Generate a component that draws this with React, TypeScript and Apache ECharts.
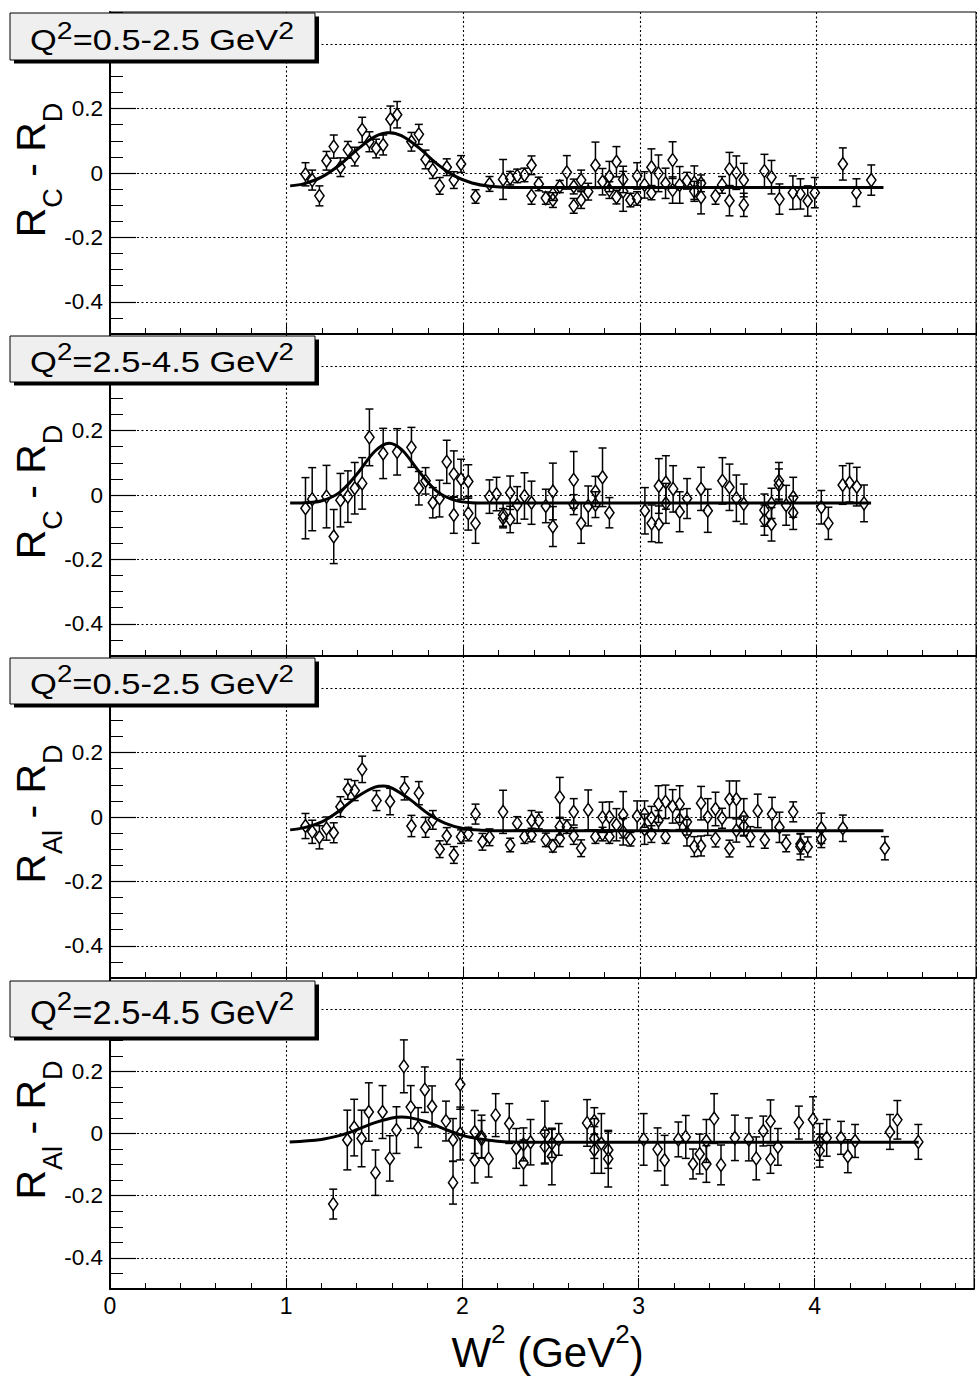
import React, { useEffect, useRef } from "react";
import * as echarts from "echarts";

const FONT = "Liberation Sans, Arial, Helvetica, sans-serif";
const X_MAX = 4.904;
const Y_TICKS_MAJOR = [-0.4, -0.2, 0, 0.2, 0.4];
const Y_LABELS = [-0.4, -0.2, 0, 0.2];

// [W^2, value, error]
const P1: number[][] = [
  [1.107, -0.004, 0.036], [1.145, -0.022, 0.031], [1.186, -0.071, 0.031], [1.226, 0.038, 0.029],
  [1.267, 0.082, 0.036], [1.305, 0.018, 0.029], [1.347, 0.072, 0.026], [1.386, 0.051, 0.029],
  [1.428, 0.134, 0.039], [1.469, 0.097, 0.031], [1.507, 0.076, 0.029], [1.547, 0.087, 0.031],
  [1.588, 0.167, 0.041], [1.626, 0.181, 0.041], [1.707, 0.097, 0.029], [1.749, 0.12, 0.031],
  [1.787, 0.042, 0.029], [1.828, 0.009, 0.026], [1.867, -0.04, 0.026], [1.907, 0.018, 0.026],
  [1.947, -0.022, 0.026], [1.988, 0.028, 0.026], [2.07, -0.073, 0.021], [2.149, -0.034, 0.023],
  [2.226, -0.02, 0.062], [2.266, -0.016, 0.021], [2.306, -0.009, 0.021], [2.347, -0.006, 0.021],
  [2.387, 0.024, 0.029], [2.387, -0.071, 0.026], [2.428, -0.034, 0.021], [2.468, -0.078, 0.019],
  [2.508, -0.084, 0.023], [2.508, -0.065, 0.02], [2.547, -0.042, 0.019], [2.587, 0.002, 0.052],
  [2.626, -0.042, 0.023], [2.626, -0.102, 0.023], [2.668, -0.022, 0.031], [2.668, -0.084, 0.026],
  [2.708, -0.058, 0.026], [2.749, 0.024, 0.072], [2.789, -0.027, 0.041], [2.828, -0.011, 0.047],
  [2.828, -0.053, 0.026], [2.868, 0.035, 0.047], [2.868, -0.075, 0.021], [2.906, -0.02, 0.041],
  [2.906, -0.057, 0.062], [2.947, -0.084, 0.021], [2.985, -0.009, 0.041], [2.985, -0.079, 0.021],
  [3.027, -0.037, 0.041], [3.066, 0.018, 0.057], [3.066, -0.062, 0.021], [3.106, -0.001, 0.057],
  [3.146, -0.032, 0.047], [3.186, 0.04, 0.057], [3.186, -0.053, 0.041], [3.226, -0.037, 0.057],
  [3.267, -0.024, 0.026], [3.309, -0.03, 0.052], [3.309, -0.057, 0.031], [3.347, -0.032, 0.026],
  [3.347, -0.075, 0.052], [3.429, -0.071, 0.026], [3.466, -0.037, 0.026], [3.508, 0.012, 0.052],
  [3.508, -0.086, 0.047], [3.547, 0.001, 0.052], [3.589, -0.022, 0.052], [3.589, -0.099, 0.036],
  [3.706, 0.006, 0.052], [3.746, -0.013, 0.052], [3.791, -0.081, 0.047], [3.867, -0.061, 0.052],
  [3.91, -0.065, 0.047], [3.951, -0.087, 0.047], [3.991, -0.061, 0.047], [4.15, 0.028, 0.05],
  [4.227, -0.061, 0.043], [4.311, -0.022, 0.047],
];

const P2: number[][] = [
  [1.107, -0.041, 0.095], [1.145, -0.013, 0.098], [1.226, -0.005, 0.097], [1.267, -0.129, 0.084],
  [1.305, -0.016, 0.083], [1.347, -0.005, 0.08], [1.386, 0.021, 0.08], [1.428, 0.036, 0.08],
  [1.469, 0.179, 0.088], [1.547, 0.129, 0.078], [1.626, 0.134, 0.072], [1.707, 0.148, 0.062],
  [1.749, 0.021, 0.052], [1.787, 0.044, 0.041], [1.828, -0.024, 0.047], [1.866, -0.011, 0.057],
  [1.907, 0.103, 0.067], [1.947, 0.065, 0.072], [1.947, -0.062, 0.057], [1.988, 0.049, 0.062],
  [2.029, 0.042, 0.052], [2.029, -0.057, 0.052], [2.07, -0.088, 0.062], [2.149, -0.005, 0.052],
  [2.189, 0.003, 0.052], [2.226, -0.061, 0.036], [2.226, -0.072, 0.03], [2.266, 0.007, 0.052],
  [2.266, -0.076, 0.041], [2.306, -0.031, 0.057], [2.347, -0.003, 0.072], [2.387, -0.024, 0.067],
  [2.468, -0.034, 0.052], [2.508, 0.011, 0.088], [2.508, -0.098, 0.062], [2.626, 0.047, 0.088],
  [2.626, -0.03, 0.031], [2.668, -0.088, 0.062], [2.708, -0.034, 0.062], [2.749, 0.011, 0.047],
  [2.749, -0.03, 0.04], [2.789, 0.055, 0.091], [2.828, -0.055, 0.047], [3.029, -0.049, 0.072],
  [3.067, -0.088, 0.057], [3.108, 0.028, 0.085], [3.108, -0.091, 0.057], [3.148, 0.039, 0.083],
  [3.148, -0.026, 0.062], [3.189, 0.019, 0.072], [3.226, -0.052, 0.062], [3.268, -0.011, 0.062],
  [3.347, 0.019, 0.067], [3.385, -0.049, 0.067], [3.468, 0.044, 0.072], [3.508, 0.024, 0.072],
  [3.547, -0.01, 0.072], [3.589, -0.028, 0.062], [3.706, -0.047, 0.05], [3.706, -0.078, 0.047],
  [3.746, -0.026, 0.047], [3.746, -0.091, 0.052], [3.788, 0.044, 0.057], [3.788, 0.031, 0.05],
  [3.829, -0.032, 0.062], [3.869, -0.007, 0.062], [3.869, -0.055, 0.052], [4.028, -0.038, 0.052],
  [4.068, -0.088, 0.05], [4.149, 0.031, 0.06], [4.188, 0.038, 0.06], [4.229, 0.026, 0.06],
  [4.27, -0.026, 0.057],
];

const P3: number[][] = [
  [1.107, -0.028, 0.039], [1.145, -0.046, 0.036], [1.186, -0.063, 0.036], [1.226, -0.036, 0.036],
  [1.267, -0.049, 0.031], [1.305, 0.032, 0.031], [1.347, 0.086, 0.031], [1.386, 0.082, 0.031],
  [1.428, 0.148, 0.041], [1.509, 0.051, 0.031], [1.586, 0.048, 0.041], [1.668, 0.089, 0.036],
  [1.707, -0.028, 0.033], [1.749, 0.074, 0.036], [1.787, -0.032, 0.031], [1.828, -0.009, 0.029],
  [1.867, -0.1, 0.026], [1.907, -0.059, 0.026], [1.947, -0.118, 0.026], [1.988, -0.061, 0.021],
  [2.029, -0.053, 0.021], [2.07, 0.009, 0.031], [2.109, -0.077, 0.026], [2.149, -0.063, 0.026],
  [2.226, 0.016, 0.067], [2.266, -0.087, 0.021], [2.306, -0.02, 0.021], [2.347, -0.061, 0.021],
  [2.387, -0.011, 0.031], [2.387, -0.056, 0.021], [2.428, -0.011, 0.026], [2.468, -0.071, 0.021],
  [2.508, -0.09, 0.019], [2.547, 0.061, 0.062], [2.547, -0.03, 0.026], [2.547, -0.066, 0.026],
  [2.587, -0.03, 0.021], [2.626, 0.016, 0.041], [2.626, -0.059, 0.026], [2.668, -0.097, 0.026],
  [2.708, 0.022, 0.062], [2.749, -0.061, 0.021], [2.789, -0.001, 0.047], [2.789, -0.053, 0.021],
  [2.828, 0.0, 0.047], [2.828, -0.061, 0.021], [2.868, -0.024, 0.05], [2.906, 0.007, 0.072],
  [2.906, -0.046, 0.041], [2.947, -0.069, 0.021], [2.985, 0.003, 0.047], [3.027, 0.009, 0.041],
  [3.027, -0.038, 0.047], [3.066, -0.053, 0.026], [3.066, -0.003, 0.036], [3.106, 0.04, 0.057],
  [3.106, -0.011, 0.031], [3.146, 0.047, 0.052], [3.146, -0.061, 0.021], [3.186, 0.033, 0.052],
  [3.226, 0.04, 0.057], [3.226, -0.008, 0.031], [3.267, -0.015, 0.041], [3.267, -0.049, 0.041],
  [3.309, -0.092, 0.031], [3.347, 0.043, 0.052], [3.347, -0.09, 0.031], [3.385, 0.0, 0.057],
  [3.429, 0.025, 0.052], [3.429, -0.067, 0.026], [3.466, -0.004, 0.031], [3.508, 0.055, 0.057],
  [3.508, -0.098, 0.026], [3.547, 0.055, 0.057], [3.547, -0.042, 0.036], [3.589, 0.0, 0.057],
  [3.589, -0.028, 0.031], [3.626, -0.061, 0.031], [3.668, 0.019, 0.052], [3.708, -0.071, 0.026],
  [3.749, 0.009, 0.052], [3.791, -0.032, 0.047], [3.829, -0.082, 0.026], [3.869, 0.016, 0.031],
  [3.91, -0.084, 0.031], [3.91, -0.092, 0.041], [3.951, -0.093, 0.031], [4.028, -0.035, 0.047],
  [4.028, -0.069, 0.026], [4.15, -0.035, 0.041], [4.388, -0.097, 0.036],
];

const P4: number[][] = [
  [1.267, -0.227, 0.048], [1.347, -0.021, 0.096], [1.386, 0.019, 0.091], [1.428, -0.016, 0.091],
  [1.469, 0.069, 0.094], [1.507, -0.126, 0.073], [1.547, 0.069, 0.085], [1.588, -0.08, 0.073],
  [1.626, 0.011, 0.075], [1.668, 0.216, 0.085], [1.707, 0.085, 0.069], [1.749, 0.019, 0.064],
  [1.787, 0.141, 0.073], [1.828, 0.087, 0.066], [1.907, 0.04, 0.064], [1.947, -0.021, 0.069],
  [1.947, -0.158, 0.069], [1.988, 0.158, 0.08], [1.988, 0.0, 0.085], [2.07, 0.005, 0.069],
  [2.07, -0.086, 0.073], [2.109, -0.01, 0.069], [2.109, -0.018, 0.06], [2.149, -0.081, 0.059],
  [2.189, 0.059, 0.069], [2.266, 0.032, 0.064], [2.306, -0.048, 0.064], [2.347, -0.035, 0.053],
  [2.347, -0.094, 0.073], [2.387, -0.028, 0.073], [2.468, 0.003, 0.101], [2.468, -0.042, 0.053],
  [2.508, -0.032, 0.045], [2.508, -0.074, 0.091], [2.547, -0.019, 0.051], [2.708, 0.034, 0.075],
  [2.749, 0.04, 0.043], [2.749, -0.016, 0.064], [2.749, -0.053, 0.075], [2.789, -0.032, 0.096],
  [2.828, -0.053, 0.059], [2.828, -0.081, 0.091], [3.029, -0.019, 0.083], [3.108, -0.051, 0.069],
  [3.148, -0.086, 0.08], [3.226, -0.019, 0.056], [3.268, -0.011, 0.069], [3.309, -0.098, 0.048],
  [3.347, -0.066, 0.064], [3.385, -0.024, 0.069], [3.385, -0.098, 0.059], [3.429, 0.048, 0.08],
  [3.468, -0.101, 0.064], [3.547, -0.014, 0.073], [3.626, -0.019, 0.069], [3.668, -0.08, 0.069],
  [3.708, 0.008, 0.048], [3.749, 0.039, 0.069], [3.749, -0.083, 0.045], [3.791, -0.043, 0.059],
  [3.91, 0.035, 0.053], [3.99, 0.045, 0.073], [4.028, -0.027, 0.059], [4.028, -0.055, 0.053],
  [4.068, -0.014, 0.059], [4.149, -0.014, 0.053], [4.188, -0.073, 0.053], [4.229, -0.024, 0.053],
  [4.427, 0.005, 0.056], [4.469, 0.044, 0.062], [4.588, -0.027, 0.056],
];

// fit curves
const C1_X = [1.02, 1.1, 1.2, 1.3, 1.4, 1.5, 1.58, 1.65, 1.75, 1.85, 1.95, 2.05, 2.15, 2.3, 2.45, 4.38];
const C1_Y = [-0.04, -0.033, -0.012, 0.025, 0.073, 0.113, 0.125, 0.116, 0.078, 0.029, -0.009, -0.031, -0.041, -0.045, -0.045, -0.045];
const C2_X = [1.02, 1.1, 1.2, 1.3, 1.4, 1.5, 1.58, 1.65, 1.75, 1.85, 1.95, 2.05, 2.2, 2.35, 4.31];
const C2_Y = [-0.025, -0.024, -0.018, 0.008, 0.066, 0.136, 0.161, 0.142, 0.073, 0.012, -0.016, -0.024, -0.025, -0.025, -0.025];
const C3_X = [1.02, 1.1, 1.2, 1.3, 1.4, 1.5, 1.55, 1.6, 1.7, 1.8, 1.9, 2.0, 2.1, 2.25, 2.4, 4.38];
const C3_Y = [-0.04, -0.033, -0.015, 0.02, 0.063, 0.093, 0.096, 0.089, 0.054, 0.011, -0.02, -0.036, -0.041, -0.043, -0.043, -0.043];
const C4_X = [1.02, 1.2, 1.3, 1.4, 1.5, 1.6, 1.655, 1.7, 1.8, 1.9, 2.0, 2.1, 2.2, 2.35, 2.5, 4.59];
const C4_Y = [-0.027, -0.019, -0.007, 0.012, 0.034, 0.05, 0.053, 0.051, 0.037, 0.014, -0.006, -0.018, -0.025, -0.028, -0.028, -0.028];

const POINTS = [P1, P2, P3, P4];
const CURVES_X = [C1_X, C2_X, C3_X, C4_X];
const CURVES_Y = [C1_Y, C2_Y, C3_Y, C4_Y];
const Q2_LABELS = ["0.5-2.5", "2.5-4.5", "0.5-2.5", "2.5-4.5"];
const Y_SUB = ["C", "C", "Al", "Al"];

// layout
const GRIDS = [
  { top: 12, height: 322 },
  { top: 334, height: 322 },
  { top: 656, height: 322 },
  { top: 978, height: 311 },
];
const BOXES = [
  { y: 13, h: 47, F: 29, f: 24, P: 7.5, ty: 18.3, sx: 1.186 },
  { y: 336, h: 46, F: 30, f: 24, P: 6.5, ty: 340, sx: 1.151 },
  { y: 658, h: 46, F: 30, f: 24, P: 6.5, ty: 662, sx: 1.151 },
  { y: 981, h: 56, F: 32.5, f: 26, P: 7.75, ty: 988.4, sx: 1.063 },
];
const YTITLE_Y = [170, 492, 814, 1130];

function renderErr(params: any, api: any) {
  const x = api.value(0);
  const y = api.value(1);
  const e = api.value(2);
  const p = api.coord([x, y]);
  const t = api.coord([x, y + e]);
  const b = api.coord([x, y - e]);
  const hw = 4.6;
  const hh = 6.5;
  const cw = 4;
  const st = { stroke: "#000", lineWidth: 1.5, fill: null };
  const children: any[] = [];
  if (p[1] - hh > t[1]) children.push({ type: "line", shape: { x1: p[0], y1: t[1], x2: p[0], y2: p[1] - hh }, style: st });
  if (b[1] > p[1] + hh) children.push({ type: "line", shape: { x1: p[0], y1: p[1] + hh, x2: p[0], y2: b[1] }, style: st });
  children.push({ type: "line", shape: { x1: p[0] - cw, y1: t[1], x2: p[0] + cw, y2: t[1] }, style: st });
  children.push({ type: "line", shape: { x1: p[0] - cw, y1: b[1], x2: p[0] + cw, y2: b[1] }, style: st });
  children.push({
    type: "polygon",
    shape: { points: [[p[0], p[1] - hh], [p[0] + hw, p[1]], [p[0], p[1] + hh], [p[0] - hw, p[1]]] },
    style: { stroke: "#000", lineWidth: 1.5, fill: "rgba(255,255,255,0)" },
  });
  return { type: "group", children };
}

function supRich(F: number, f: number, P: number) {
  return {
    n: { fontSize: F, lineHeight: F, padding: [P, 0, 0, 0], verticalAlign: "top", fontFamily: FONT, fill: "#000" },
    s: { fontSize: f, lineHeight: f, verticalAlign: "top", fontFamily: FONT, fill: "#000" },
  };
}

export default function App() {
  const ref = useRef<HTMLDivElement>(null);
  useEffect(() => {
    const chart = echarts.init(ref.current!, null, { renderer: "svg", width: 977, height: 1377 });
    const grid: any[] = [];
    const xAxis: any[] = [];
    const yAxis: any[] = [];
    const series: any[] = [];
    const graphics: any[] = [];
    const dotted = { color: "#000", width: 1.1, type: [2, 2.5] };
    for (let i = 0; i < 4; i++) {
      grid.push({
        left: 110, width: 866, top: GRIDS[i].top, height: GRIDS[i].height,
        show: true, borderColor: "#000", borderWidth: 1, backgroundColor: "transparent",
      });
      xAxis.push({
        gridIndex: i, type: "value", min: 0, max: X_MAX, interval: 1,
        axisLine: { show: true, onZero: false, lineStyle: { color: "#000", width: 2 } },
        axisTick: { show: true, inside: true, length: 11, lineStyle: { color: "#000", width: 1 } },
        minorTick: { show: true, splitNumber: 5, length: 6, lineStyle: { color: "#000", width: 1 } },
        splitLine: { show: true, lineStyle: dotted },
        axisLabel: {
          show: i === 3, color: "#000", fontSize: 23, fontFamily: FONT, margin: 5,
          formatter: (v: number) => (Math.abs(v - Math.round(v)) < 1e-6 ? String(Math.round(v)) : ""),
        },
      });
      yAxis.push({
        gridIndex: i, type: "value", min: -0.5, max: 0.5, interval: 0.05, position: "left",
        axisLine: { show: true, onZero: false, lineStyle: { color: "#000", width: 2 } },
        axisTick: { show: true, inside: true, length: 13, lineStyle: { color: "#000", width: 1 } },
        axisLabel: { show: false },
        splitLine: { show: false },
      });
      yAxis.push({
        gridIndex: i, type: "value", min: -0.5, max: 0.5, position: "left",
        axisLine: { show: false },
        axisTick: { show: true, inside: true, length: 26, customValues: Y_TICKS_MAJOR, lineStyle: { color: "#000", width: 1.2 } },
        axisLabel: {
          show: true, customValues: Y_LABELS, color: "#000", fontSize: 22.5, fontFamily: FONT, margin: 7,
          formatter: (v: number) => String(Math.round(v * 10) / 10),
        },
        splitLine: { show: true, lineStyle: dotted },
      });
      series.push({
        type: "custom", xAxisIndex: i, yAxisIndex: 2 * i, renderItem: renderErr,
        data: POINTS[i], encode: { x: 0, y: 1 }, clip: true, z: 3, silent: true,
      });
      series.push({
        type: "line", xAxisIndex: i, yAxisIndex: 2 * i,
        data: CURVES_X[i].map((x, k) => [x, CURVES_Y[i][k]]),
        smooth: 0.35, showSymbol: false, symbol: "none", z: 5, silent: true,
        lineStyle: { color: "#000", width: 3 },
      });
      const B = BOXES[i];
      graphics.push({ type: "rect", z: 100, shape: { x: 14, y: B.y + 3.5, width: 305, height: B.h }, style: { fill: "#000" } });
      graphics.push({ type: "rect", z: 101, shape: { x: 10, y: B.y, width: 305, height: B.h }, style: { fill: "#efefef", stroke: "#000", lineWidth: 1 } });
      graphics.push({
        type: "text", z: 102, x: 162, y: B.ty, scaleX: B.sx,
        style: {
          text: `{n|Q}{s|2}{n|=${Q2_LABELS[i]} GeV}{s|2}`,
          rich: supRich(B.F, B.f, B.P), align: "center", verticalAlign: "top", fill: "#000",
        },
      });
      graphics.push({
        type: "text", z: 102, x: 10.5, y: YTITLE_Y[i], rotation: Math.PI / 2,
        style: {
          text: `{n|R}{s|${Y_SUB[i]}}{n| - R}{s|D}`,
          rich: {
            n: { fontSize: 41, lineHeight: 41, verticalAlign: "top", fontFamily: FONT, fill: "#000" },
            s: { fontSize: 27, lineHeight: 27, padding: [28.5, 0, 0, 0], verticalAlign: "top", fontFamily: FONT, fill: "#000" },
          },
          align: "center", verticalAlign: "top", fill: "#000",
        },
      });
    }
    graphics.push({
      type: "text", z: 102, x: 547.5, y: 1321,
      style: {
        text: "{n|W}{s|2}{n| (GeV}{s|2}{n|)}",
        rich: supRich(42, 26, 10), align: "center", verticalAlign: "top", fill: "#000",
      },
    });
    chart.setOption({
      animation: false,
      backgroundColor: "#fff",
      grid, xAxis, yAxis, series,
      graphic: { elements: graphics },
    });
    return () => chart.dispose();
  }, []);
  return <div ref={ref} style={{ position: "absolute", left: 0, top: 0, width: 977, height: 1377 }} />;
}
